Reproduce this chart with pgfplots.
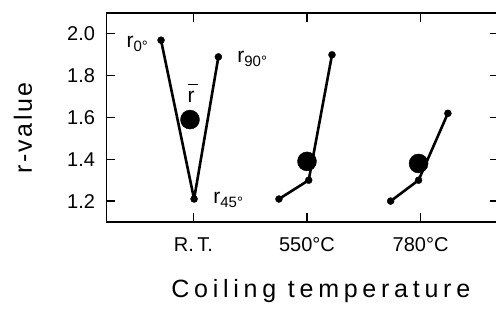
\documentclass[border=0pt]{standalone}
\usepackage{pgfplots}
\pgfplotsset{compat=1.18}
\usepackage{fontspec}
\setmainfont{Liberation Sans}
\newfontfamily\spacedA[LetterSpace=10]{Liberation Sans}
\newfontfamily\spacedB[LetterSpace=19]{Liberation Sans}
\begin{document}
\begin{tikzpicture}
\begin{axis}[
  scale only axis, width=392.5pt, height=209pt,
  xmin=-0.765, xmax=2.69, ymin=1.1, ymax=2.1,
  xtick={0,1,2}, xticklabels={R.\,T., 550°C, 780°C},
  ytick={1.2,1.4,1.6,1.8,2.0},
  yticklabel style={/pgf/number format/fixed, /pgf/number format/fixed zerofill,
    /pgf/number format/precision=1, /pgf/number format/assume math mode=true, xshift=-8pt},
  tick align=inside, tick pos=both, ticklabel pos=left,
  major tick length=9pt,
  every tick/.style={black, line width=1.2pt},
  axis line style={line width=1.8pt},
  tick label style={font=\fontsize{20}{22}\selectfont},
  xticklabel style={yshift=-11pt, text height=14.5pt, text depth=0pt},
  xlabel={\spacedB Coiling temperature}, ylabel={\spacedA r-value},
  label style={font=\fontsize{25}{28}\selectfont},
  xlabel style={at={(axis description cs:0.546,-0.359)}, anchor=base},
  ylabel style={at={(axis description cs:-0.213,0.45)}, anchor=center},
  clip=false,
]
\addplot[black, line width=2.6pt, line join=round, mark=*, mark size=3.5pt, mark options={line width=0.4pt}]
  coordinates {(-0.285,1.97) (0.006,1.21) (0.22,1.89)};
\addplot[black, line width=2.6pt, line join=round, mark=*, mark size=3.5pt, mark options={line width=0.4pt}]
  coordinates {(0.753,1.21) (1.015,1.30) (1.22,1.90)};
\addplot[black, line width=2.6pt, line join=round, mark=*, mark size=3.5pt, mark options={line width=0.4pt}]
  coordinates {(1.736,1.20) (1.982,1.30) (2.24,1.62)};
\addplot[black, only marks, mark=*, mark size=9.5pt]
  coordinates {(-0.03,1.59) (1.0,1.39) (1.982,1.38)};
\begin{scope}[every node/.style={inner sep=0pt, font=\fontsize{21}{22}\selectfont}]
\node[anchor=base west] at (axis cs:-0.59,1.933) {r\raisebox{-4pt}{\fontsize{15}{15}\selectfont 0°}};
\node[anchor=base west] at (axis cs:0.385,1.861) {r\raisebox{-4pt}{\fontsize{15}{15}\selectfont 90°}};
\node[anchor=base west] at (axis cs:0.174,1.19) {r\raisebox{-4pt}{\fontsize{15}{15}\selectfont 45°}};
\node[anchor=base] at (axis cs:-0.02,1.674) {\rlap{\rule[17pt]{10pt}{1.2pt}}r};
\end{scope}
\end{axis}
\pgfresetboundingbox
\path ([xshift=-106.5pt,yshift=-91pt]current axis.south west) rectangle ([xshift=-3pt,yshift=13pt]current axis.north east);
\end{tikzpicture}
\end{document}
